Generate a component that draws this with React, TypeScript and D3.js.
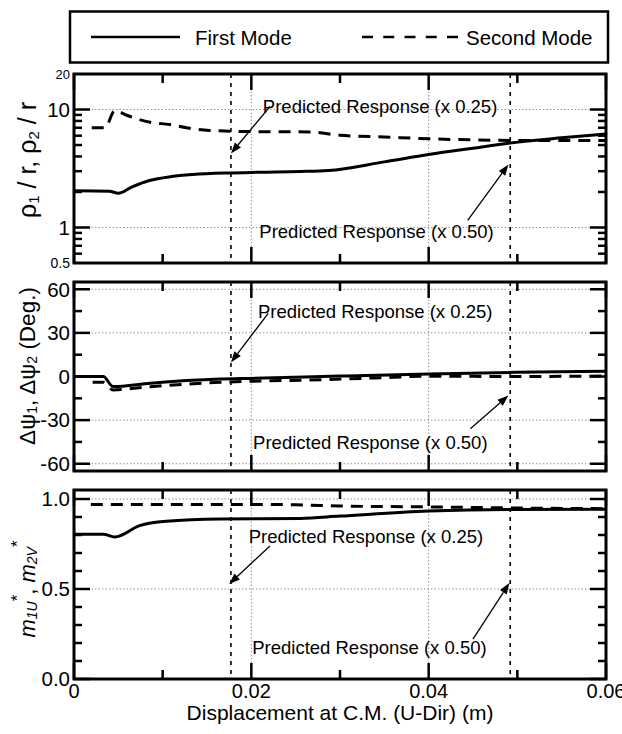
import React from "react";
import * as d3 from "d3";

// ---------- DATA ----------
// Panel 1: rho/r (log scale)
const rho1X = [0, 0.004, 0.005, 0.0065, 0.0085, 0.011, 0.0134, 0.0173, 0.021, 0.0255, 0.0287, 0.035, 0.04, 0.045, 0.0492, 0.055, 0.06];
const rho1Y = [2.05, 2.03, 1.95, 2.2, 2.5, 2.7, 2.81, 2.9, 2.94, 2.98, 3.04, 3.6, 4.15, 4.7, 5.2, 5.75, 6.2];
const rho2X = [0.002, 0.0035, 0.0046, 0.006, 0.0086, 0.0108, 0.0127, 0.0153, 0.02, 0.0266, 0.03, 0.035, 0.04, 0.047, 0.053, 0.06];
const rho2Y = [7.0, 7.0, 9.8, 8.9, 7.8, 7.45, 7.0, 6.65, 6.5, 6.45, 6.05, 5.85, 5.65, 5.5, 5.45, 5.45];

// Panel 2: delta psi (deg)
const psi1X = [0, 0.0033, 0.0044, 0.0086, 0.0165, 0.02, 0.03, 0.04, 0.05, 0.06];
const psi1Y = [0, 0, -6.9, -4.6, -1.8, -1.3, 0.3, 1.8, 2.9, 3.6];
const psi2X = [0.0021, 0.0033, 0.0044, 0.0086, 0.0165, 0.02, 0.028, 0.034, 0.04, 0.05, 0.06];
const psi2Y = [-3.9, -3.9, -9.2, -7.0, -4.0, -3.3, -2.2, -1.0, 0.2, 0.0, 0.3];

// Panel 3: effective modal mass ratio
const m1X = [0, 0.0033, 0.0046, 0.0074, 0.0104, 0.0165, 0.0255, 0.03, 0.04, 0.049, 0.06];
const m1Y = [0.804, 0.804, 0.789, 0.852, 0.876, 0.889, 0.892, 0.905, 0.933, 0.942, 0.943];
const m2X = [0.0019, 0.01, 0.02, 0.025, 0.03, 0.04, 0.05, 0.06];
const m2Y = [0.97, 0.97, 0.97, 0.968, 0.961, 0.956, 0.95, 0.946];

// Axes
const xMajorTicks = [0, 0.02, 0.04, 0.06];
const xMinorTicks = [0.01, 0.03, 0.05];
const xTickLabels = ["0", "0.02", "0.04", "0.06"];
const xGrid = [0.02, 0.04];
const predX = [0.0177, 0.0492];

const p1Major = [1, 10];
const p1Minor = [0.6, 0.7, 0.8, 0.9, 2, 3, 4, 5, 6, 7, 8, 9];
const p1Labels = [
  { v: 20, t: "20", s: 13 },
  { v: 10, t: "10", s: 20.5 },
  { v: 1, t: "1", s: 20.5 },
  { v: 0.5, t: "0.5", s: 14 },
];
const p2Major = [-60, -30, 0, 30, 60];
const p2Minor = [-45, -15, 15, 45];
const p2Labels = ["-60", "-30", "0", "30", "60"];
const p3Major = [0, 0.5, 1.0];
const p3Minor = [0.1, 0.2, 0.3, 0.4, 0.6, 0.7, 0.8, 0.9];
const p3Labels = ["0.0", "0.5", "1.0"];

const annText25 = "Predicted Response (x 0.25)";
const annText50 = "Predicted Response (x 0.50)";
// annotations in data units: [textX, textY, tailX, tailY, tipX, tipY]
const p1Ann = [
  [0.0213, 9.3, 0.0221, 10.6, 0.0177, 4.24],
  [0.0209, 0.807, 0.0444, 1.15, 0.049, 3.42],
];
const p2Ann = [
  [0.02075, 40, 0.0219, 43.4, 0.0177, 9.7],
  [0.0202, -49.7, 0.0447, -35.9, 0.049, -13.1],
];
const p3Ann = [
  [0.0197, 0.756, 0.0221, 0.739, 0.0175, 0.528],
  [0.0201, 0.139, 0.045, 0.222, 0.0491, 0.533],
];

// ---------- LAYOUT ----------
const W = 622;
const H = 734;
const L = 74;
const R = 606;
const PH = 189;
const tops = [74, 282, 490];
const FONT = "'Liberation Sans', Arial, Helvetica, sans-serif";

const x = d3.scaleLinear().domain([0, 0.06]).range([L, R]);

function Arrow({ x1, y1, x2, y2 }: any) {
  const a = Math.atan2(y2 - y1, x2 - x1);
  const len = 11, hw = 4;
  const bx = x2 - len * Math.cos(a), by = y2 - len * Math.sin(a);
  const p = [
    [x2, y2],
    [bx + hw * Math.sin(a), by - hw * Math.cos(a)],
    [bx - hw * Math.sin(a), by + hw * Math.cos(a)],
  ];
  return (
    <g>
      <line x1={x1} y1={y1} x2={bx} y2={by} stroke="#000" strokeWidth={1.3} />
      <polygon points={p.map((q) => q.join(",")).join(" ")} fill="#000" />
    </g>
  );
}

function Panel({ y, top, series, major, minor, labels, grid, ann, showX, ylabel }: any) {
  const bottom = top + PH;
  const line = d3.line<[number, number]>().x((d) => x(d[0])).y((d) => y(d[1])).curve(d3.curveMonotoneX);
  const clipId = "clip" + top;
  return (
    <g>
      <defs>
        <clipPath id={clipId}>
          <rect x={L} y={top} width={R - L} height={PH} />
        </clipPath>
      </defs>
      {grid.map((v: number, i: number) => (
        <line key={"hg" + i} x1={L} x2={R} y1={y(v)} y2={y(v)} stroke="#777" strokeWidth={0.8} strokeDasharray="1.5,2" />
      ))}
      {xGrid.map((v, i) => (
        <line key={"vg" + i} x1={x(v)} x2={x(v)} y1={top} y2={bottom} stroke="#777" strokeWidth={0.8} strokeDasharray="1.5,2" />
      ))}
      {predX.map((v, i) => (
        <line key={"pr" + i} x1={x(v)} x2={x(v)} y1={top} y2={bottom} stroke="#000" strokeWidth={1.6} strokeDasharray="4,5" />
      ))}
      <g clipPath={`url(#${clipId})`}>
        <path d={line(series[0][0].map((v: number, i: number) => [v, series[0][1][i]])) || ""} fill="none" stroke="#000" strokeWidth={3} />
        <path d={line(series[1][0].map((v: number, i: number) => [v, series[1][1][i]])) || ""} fill="none" stroke="#000" strokeWidth={3} strokeDasharray="12,8" />
      </g>
      {major.map((v: number, i: number) => (
        <g key={"ym" + i}>
          <line x1={L} x2={L + 16} y1={y(v)} y2={y(v)} stroke="#000" strokeWidth={2.5} />
          <line x1={R} x2={R - 16} y1={y(v)} y2={y(v)} stroke="#000" strokeWidth={2.5} />
        </g>
      ))}
      {minor.map((v: number, i: number) => (
        <g key={"yn" + i}>
          <line x1={L} x2={L + 8} y1={y(v)} y2={y(v)} stroke="#000" strokeWidth={2.5} />
          <line x1={R} x2={R - 8} y1={y(v)} y2={y(v)} stroke="#000" strokeWidth={2.5} />
        </g>
      ))}
      {xMajorTicks.map((v, i) => (
        <g key={"xm" + i}>
          <line x1={x(v)} x2={x(v)} y1={top} y2={top + 16} stroke="#000" strokeWidth={2.5} />
          <line x1={x(v)} x2={x(v)} y1={bottom} y2={bottom - 16} stroke="#000" strokeWidth={2.5} />
        </g>
      ))}
      {xMinorTicks.map((v, i) => (
        <g key={"xn" + i}>
          <line x1={x(v)} x2={x(v)} y1={top} y2={top + 9} stroke="#000" strokeWidth={2.5} />
          <line x1={x(v)} x2={x(v)} y1={bottom} y2={bottom - 9} stroke="#000" strokeWidth={2.5} />
        </g>
      ))}
      <rect x={L} y={top} width={R - L} height={PH} fill="none" stroke="#000" strokeWidth={3} />
      {labels.map((l: any, i: number) => (
        <text key={"yl" + i} x={L - 4} y={y(l.v)} dy="0.36em" textAnchor="end" fontSize={l.s} fontFamily={FONT}>
          {l.t}
        </text>
      ))}
      {ann.map((a: number[], i: number) => (
        <g key={"an" + i}>
          <text x={x(a[0])} y={y(a[1])} fontSize={18.5} fontFamily={FONT}>
            {i === 0 ? annText25 : annText50}
          </text>
          <Arrow x1={x(a[2])} y1={y(a[3])} x2={x(a[4])} y2={y(a[5])} />
        </g>
      ))}
      {showX &&
        xMajorTicks.map((v, i) => (
          <text key={"xl" + i} x={x(v)} y={bottom + 19} textAnchor="middle" fontSize={20} fontFamily={FONT}>
            {xTickLabels[i]}
          </text>
        ))}
      {ylabel}
    </g>
  );
}

export default function App() {
  const y1 = d3.scaleLog().domain([0.5, 20]).range([tops[0] + PH, tops[0]]);
  const y2 = d3.scaleLinear().domain([-65, 65]).range([tops[1] + PH, tops[1]]);
  const y3 = d3.scaleLinear().domain([0, 1.05]).range([tops[2] + PH, tops[2]]);
  return (
    <svg width={W} height={H} style={{ position: "absolute", left: 0, top: 0, background: "#fff" }} fontFamily={FONT}>
      <rect width={W} height={H} fill="#fff" />
      <rect x={70} y={11.5} width={538} height={51} fill="none" stroke="#000" strokeWidth={2.5} />
      <line x1={91} x2={180} y1={37} y2={37} stroke="#000" strokeWidth={2.5} />
      <text x={195} y={45} fontSize={20.5}>First Mode</text>
      <line x1={362} x2={458} y1={37} y2={37} stroke="#000" strokeWidth={2.5} strokeDasharray="11,10.25" />
      <text x={466} y={45} fontSize={20.5}>Second Mode</text>

      <Panel
        y={y1}
        top={tops[0]}
        series={[[rho1X, rho1Y], [rho2X, rho2Y]]}
        major={p1Major}
        minor={p1Minor}
        labels={p1Labels}
        grid={[1, 10]}
        ann={p1Ann}
        showX={false}
        ylabel={
          <text transform={`translate(27,160) rotate(-90)`} textAnchor="middle" dominantBaseline="central" fontSize={25}>
            ρ<tspan fontSize={15} dy={6}>1</tspan>
            <tspan dy={-6}> / r, ρ</tspan>
            <tspan fontSize={15} dy={6}>2</tspan>
            <tspan dy={-6}> / r</tspan>
          </text>
        }
      />
      <Panel
        y={y2}
        top={tops[1]}
        series={[[psi1X, psi1Y], [psi2X, psi2Y]]}
        major={p2Major}
        minor={p2Minor}
        labels={p2Major.map((v, i) => ({ v, t: p2Labels[i], s: 20.5 }))}
        grid={[-60, -30, 30, 60]}
        ann={p2Ann}
        showX={false}
        ylabel={
          <text transform={`translate(27,366) rotate(-90)`} textAnchor="middle" dominantBaseline="central" fontSize={22.5}>
            Δψ<tspan fontSize={14} dy={5}>1</tspan>
            <tspan dy={-5}>, Δψ</tspan>
            <tspan fontSize={14} dy={5}>2</tspan>
            <tspan dy={-5}> (Deg.)</tspan>
          </text>
        }
      />
      <Panel
        y={y3}
        top={tops[2]}
        series={[[m1X, m1Y], [m2X, m2Y]]}
        major={p3Major}
        minor={p3Minor}
        labels={p3Major.map((v, i) => ({ v, t: p3Labels[i], s: 20.5 }))}
        grid={[0.5, 1.0]}
        ann={p3Ann}
        showX={true}
        ylabel={
          <text transform={`translate(27,589) rotate(-90)`} textAnchor="middle" dominantBaseline="central" fontSize={22}>
            <tspan fontStyle="italic">m</tspan>
            <tspan fontSize={14} dy={5} fontStyle="italic">1U</tspan>
            <tspan fontSize={17} dy={-15}>*</tspan>
            <tspan dy={10}>, </tspan>
            <tspan fontStyle="italic">m</tspan>
            <tspan fontSize={14} dy={5} fontStyle="italic">2V</tspan>
            <tspan fontSize={17} dy={-15}>*</tspan>
          </text>
        }
      />
      <text x={(L + R) / 2} y={720} textAnchor="middle" fontSize={21}>
        Displacement at C.M. (U-Dir) (m)
      </text>
    </svg>
  );
}
